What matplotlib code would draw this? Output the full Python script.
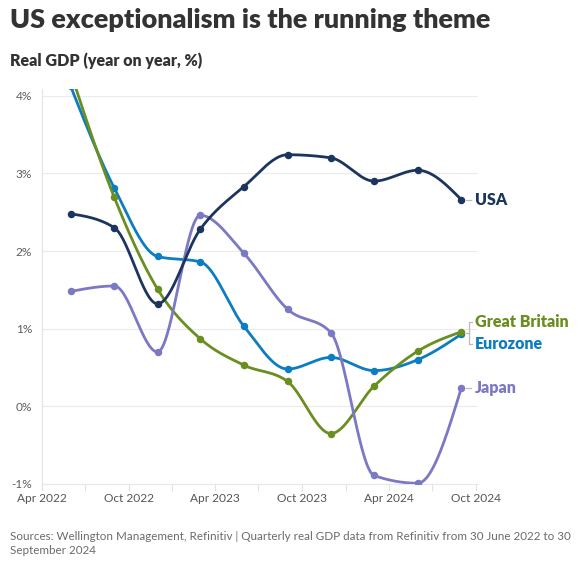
import numpy as np
import matplotlib
matplotlib.use("Agg")
import matplotlib.pyplot as plt
import matplotlib.dates as mdates
from matplotlib.ticker import FuncFormatter
from matplotlib.lines import Line2D

plt.rcParams['font.family'] = ['Lato', 'DejaVu Sans']

# ---------------- data ----------------
dates = ["2022-06-01", "2022-09-01", "2022-12-01", "2023-03-01", "2023-06-01",
         "2023-09-01", "2023-12-01", "2024-03-01", "2024-06-01", "2024-09-01"]
usa = [2.48, 2.30, 1.32, 2.28, 2.83, 3.24, 3.20, 2.90, 3.04, 2.66]
eurozone = [4.12, 2.81, 1.93, 1.86, 1.03, 0.48, 0.63, 0.46, 0.60, 0.93]
great_britain = [4.30, 2.69, 1.51, 0.87, 0.53, 0.32, -0.35, 0.26, 0.71, 0.96]
japan = [1.48, 1.55, 0.70, 2.46, 1.97, 1.25, 0.95, -0.89, -0.99, 0.24]
y_ticks = [-1, 0, 1, 2, 3, 4]

title = "US exceptionalism is the running theme"
subtitle = "Real GDP (year on year, %)"
source1 = ("Sources: Wellington Management, Refinitiv | Quarterly real GDP data from "
           "Refinitiv from 30 June 2022 to 30")
source2 = "September 2024"

C_USA = "#1c355e"
C_EZ = "#0b7dc0"
C_GB = "#6a8e1f"
C_JP = "#7b78c4"

HEAVY = 800


def monotone_x(x, y, n=60):
    """d3 curveMonotoneX equivalent."""
    x = np.asarray(x, float)
    y = np.asarray(y, float)
    h = np.diff(x)
    s = np.diff(y) / h
    m = len(x)
    t = np.zeros(m)
    sg = lambda v: -1.0 if v < 0 else 1.0
    for i in range(1, m - 1):
        p = (s[i - 1] * h[i] + s[i] * h[i - 1]) / (h[i - 1] + h[i])
        t[i] = (sg(s[i - 1]) + sg(s[i])) * min(abs(s[i - 1]), abs(s[i]), 0.5 * abs(p))
    t[0] = (3 * s[0] - t[1]) / 2
    t[-1] = (3 * s[-1] - t[-2]) / 2
    xs, ys = [], []
    u = np.linspace(0, 1, n)
    h00 = 2 * u**3 - 3 * u**2 + 1
    h10 = u**3 - 2 * u**2 + u
    h01 = -2 * u**3 + 3 * u**2
    h11 = u**3 - u**2
    for i in range(m - 1):
        xs.append(x[i] + u * h[i])
        ys.append(h00 * y[i] + h10 * h[i] * t[i] + h01 * y[i + 1] + h11 * h[i] * t[i + 1])
    return np.concatenate(xs), np.concatenate(ys)


W, H = 580, 564
fig = plt.figure(figsize=(W / 100, H / 100), dpi=100)
ax = fig.add_axes([41.7 / W, (H - 484) / H, (478 - 41.7) / W, (484 - 89) / H])

xd = mdates.date2num(np.array(dates, dtype="datetime64[D]"))

series = [
    ("Eurozone", eurozone, C_EZ, 2),
    ("Great Britain", great_britain, C_GB, 3),
    ("Japan", japan, C_JP, 4),
    ("USA", usa, C_USA, 5),
]
for name, vals, col, z in series:
    sx, sy = monotone_x(xd, vals)
    ax.plot(sx, sy, color=col, lw=2.0, zorder=z, solid_capstyle='round')
    ax.plot(xd, vals, 'o', color=col, ms=5.4, zorder=z, mew=0)

ax.set_xlim(mdates.date2num(np.datetime64("2022-04-01")),
            mdates.date2num(np.datetime64("2024-10-06")))
ax.set_ylim(-1, 4 + (95.7 - 89) / 77.66)

ax.xaxis.set_major_locator(mdates.MonthLocator(bymonth=[4, 10]))
ax.xaxis.set_minor_locator(mdates.MonthLocator(bymonth=[1, 7]))
ax.xaxis.set_major_formatter(mdates.DateFormatter("%b %Y"))
ax.set_yticks(y_ticks)
ax.yaxis.set_major_formatter(FuncFormatter(lambda v, p: f"{int(round(v))}%"))

ax.grid(axis='y', color='#ebebeb', lw=0.8)
ax.set_axisbelow(True)
for sp in ['top', 'right']:
    ax.spines[sp].set_visible(False)
ax.spines['left'].set_color('#e3e3e3')
ax.spines['left'].set_linewidth(0.8)
ax.spines['bottom'].set_color('#e8e8e8')
ax.spines['bottom'].set_linewidth(0.8)

renderer = fig.canvas.get_renderer()


def fit_size(text, target_px, weight='normal'):
    t = fig.text(0, 0, text, fontsize=10, fontweight=weight)
    w = t.get_window_extent(renderer).width
    t.remove()
    return 10 * target_px / w


tick_fs = fit_size("Apr 2022", 50)
ax.tick_params(axis='y', length=0, pad=7.0, labelsize=tick_fs, labelcolor='#5e5e5e')
ax.tick_params(axis='x', which='both', length=5, width=0.8, color='#e3e3e3',
               pad=1.5, labelsize=tick_fs, labelcolor='#555555')

# titles
fs_t = fit_size(title, 484, HEAVY)
fig.text(10 / W, 1 - 28.5 / H, title, fontsize=fs_t, fontweight=HEAVY,
         color='#333333', va='baseline', ha='left')
fs_s = fit_size(subtitle, 193, HEAVY)
fig.text(10 / W, 1 - 66 / H, subtitle, fontsize=fs_s, fontweight=HEAVY,
         color='#333333', va='baseline', ha='left')
fs_src = fit_size(source1, 556)
fig.text(9.5 / W, 1 - 540 / H, source1, fontsize=fs_src, color='#6b6b6b',
         va='baseline', ha='left')
fig.text(9.5 / W, 1 - 554.5 / H, source2, fontsize=fs_src, color='#6b6b6b',
         va='baseline', ha='left')

# end labels
lab_fs = fit_size("Great Britain", 93.3, HEAVY)
grey = '#bbbbbb'
xl = xd[-1]

for name, vals, col in [("USA", usa, C_USA), ("Japan", japan, C_JP)]:
    yv = vals[-1]
    x0, y0 = ax.transData.transform((xl, yv))
    fig.add_artist(Line2D([(x0 + 4.5) / W, (x0 + 9.5) / W], [y0 / H, y0 / H],
                          color=grey, lw=0.9, transform=fig.transFigure))
    fig.text((x0 + 13.5) / W, (y0 - 0.5) / H, name, fontsize=lab_fs, fontweight=HEAVY,
             color=col, va='center', ha='left')

ymid = (great_britain[-1] + eurozone[-1]) / 2
x0, y0 = ax.transData.transform((xl, ymid))
top, bot = y0 + 11, y0 - 11.5
bx = x0 + 8
fig.add_artist(Line2D([(bx + 2.5) / W, bx / W, bx / W, (bx + 2.5) / W],
                      [top / H, top / H, bot / H, bot / H],
                      color=grey, lw=0.9, transform=fig.transFigure))
fig.add_artist(Line2D([(x0 + 5) / W, bx / W], [y0 / H, y0 / H],
                      color=grey, lw=0.9, transform=fig.transFigure))
fig.text((x0 + 13.5) / W, top / H, "Great Britain", fontsize=lab_fs, fontweight=HEAVY,
         color=C_GB, va='center', ha='left')
fig.text((x0 + 13.5) / W, bot / H, "Eurozone", fontsize=lab_fs, fontweight=HEAVY,
         color=C_EZ, va='center', ha='left')

fig.savefig("out.png", dpi=100)
